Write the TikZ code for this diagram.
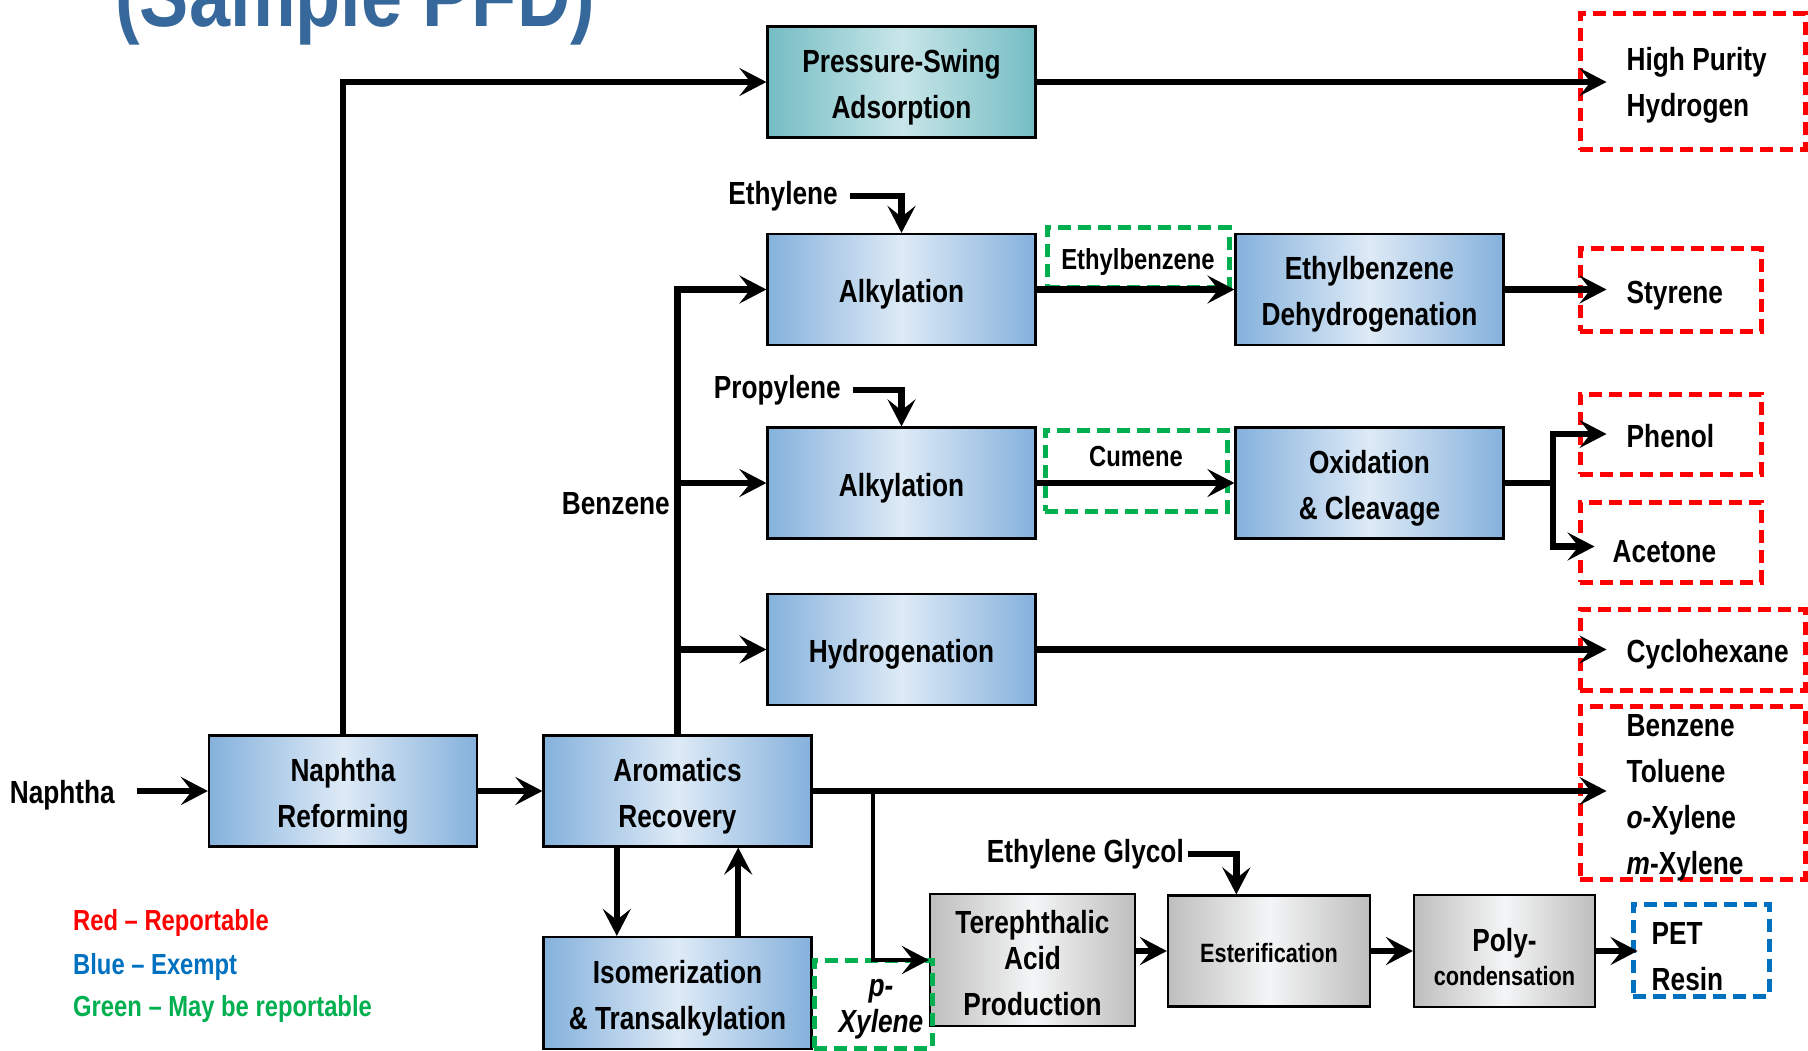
\documentclass[tikz,border=0pt]{standalone}
\usepackage{fontspec}
\setmainfont{Liberation Sans}[FakeStretch=0.82]
\usepackage{tikz}
\usetikzlibrary{arrows.meta}
\usetikzlibrary{positioning}

\definecolor{bxedge}{RGB}{132,177,220}
\definecolor{bxmid}{RGB}{222,234,246}
\definecolor{tledge}{RGB}{116,189,195}
\definecolor{tlmid}{RGB}{200,230,233}
\definecolor{gyedge}{RGB}{190,190,190}
\definecolor{gymid}{RGB}{244,245,246}
\definecolor{rptred}{RGB}{255,0,0}
\definecolor{exblue}{RGB}{0,112,192}
\definecolor{maygreen}{RGB}{0,176,80}
\definecolor{titleblue}{RGB}{54,104,155}

\begin{document}
\begin{tikzpicture}[x=1pt,y=-1pt,inner sep=0pt,
  >={Stealth[length=27pt,width=28pt,inset=11pt]},
  font=\fontsize{32}{46}\selectfont\bfseries,
  flow/.style={->,line width=6.5pt},
  main node/.style={draw,line width=2.2pt,minimum width=268pt,minimum height=111pt,
    text width=260pt,align=flush center,text height=33pt,
    left color=bxedge,right color=bxedge,middle color=bxmid},
  teal node/.style={main node,left color=tledge,right color=tledge,middle color=tlmid},
  gray node/.style={main node,left color=gyedge,right color=gyedge,middle color=gymid},
  red box/.style={draw=rptred,line width=5pt,dash pattern=on 13pt off 7pt},
  green box/.style={red box,draw=maygreen},
  blue box/.style={red box,draw=exblue},
  prod text/.style={text width=170pt,align=flush left,text height=33pt}]

  \useasboundingbox (0,0) rectangle (1808,1051);

  \node (title) at (115,27) [anchor=base west,text=titleblue,font=\fontsize{90}{90}\selectfont\bfseries] {(Sample PFD)};

  % process units
  \node[teal node] (psa) at (901.5,82) {Pressure-Swing\\Adsorption};
  \node[main node] (alk1) at (901.5,289.5) {Alkylation};
  \node[main node] (alk2) at (901.5,483) {Alkylation};
  \node[main node] (hyd) at (901.5,649.5) {Hydrogenation};
  \node[main node] (ebd) at (1369.5,289.5) {Ethylbenzene\\Dehydrogenation};
  \node[main node] (oxc) at (1369.5,483) {Oxidation\\\& Cleavage};
  \node[main node] (nr) at (343,791) {Naphtha\\Reforming};
  \node[main node] (ar) at (677.5,791) {Aromatics\\Recovery};
  \node[main node] (iso) at (677.5,993) [minimum height=112pt] {Isomerization\\\& Transalkylation};
  \node[gray node] (tap) at (1032.5,960) [minimum width=205pt,minimum height=132pt,text width=200pt,
    text height=30pt,font=\fontsize{32}{36}\selectfont\bfseries] {Terephthalic\\Acid\\[10pt]Production};
  \node[gray node] (est) at (1269,951) [minimum width=202pt,text width=195pt,text height=24pt,
    font=\fontsize{26.5}{30}\selectfont\bfseries] {Esterification};
  \node[gray node] (poly) at (1504.5,951) [minimum width=181pt,minimum height=112pt,text width=175pt,
    text height=35pt] {Poly-\\[-12pt]{\fontsize{26.5}{30}\selectfont condensation}};

  % intermediates
  \node[green box] (ebbox) at (1138,258) [minimum width=182pt,minimum height=60pt,text height=30pt,
    font=\fontsize{29}{29}\selectfont\bfseries] {Ethylbenzene};
  \node[green box] (cumbox) at (1136,470.5) [minimum width=182pt,minimum height=81pt] {};
  \node[] (cum) [below=19pt of cumbox.north,font=\fontsize{29}{29}\selectfont\bfseries] {Cumene};
  \node[green box] (pxbox) at (873,1004) [minimum width=118pt,minimum height=88pt] {};
  \node[] (px) at (pxbox.center) [xshift=8pt,text width=110pt,align=flush center,text height=27pt,
    font=\fontsize{32}{36}\selectfont\bfseries\itshape] {p-\\Xylene};

  % products
  \node[red box] (hphbox) at (1692.5,82) [minimum width=225pt,minimum height=136pt] {};
  \node[prod text] (hph) [right=49pt of hphbox.west,text height=30pt] {High Purity\\Hydrogen};
  \node[red box] (stybox) at (1670.5,290) [minimum width=181pt,minimum height=82pt] {};
  \node[prod text] (sty) [right=49pt of stybox.west] {Styrene};
  \node[red box] (phebox) at (1670.5,434) [minimum width=181pt,minimum height=80pt] {};
  \node[prod text] (phe) [right=49pt of phebox.west,text height=28pt] {Phenol};
  \node[red box] (acebox) at (1670.5,542) [minimum width=181pt,minimum height=80pt] {};
  \node[prod text] (ace) [right=35pt of acebox.west,yshift=-4.5pt] {Acetone};
  \node[red box] (cycbox) at (1692.5,649.5) [minimum width=225pt,minimum height=81pt] {};
  \node[prod text] (cyc) [right=49pt of cycbox.west] {Cyclohexane};
  \node[red box] (btxbox) at (1692.5,792.5) [minimum width=225pt,minimum height=173pt] {};
  \node[prod text] (btx) [right=49pt of btxbox.west] {Benzene\\Toluene\\\textit{o}-Xylene\\\textit{m}-Xylene};
  \node[blue box] (petbox) at (1701,950) [minimum width=136pt,minimum height=92pt] {};
  \node[prod text] (pet) [right=21pt of petbox.west,text width=100pt,text height=35pt] {PET\\Resin};

  % feeds and stream labels
  \node (nap) at (115,795) [anchor=east] {Naphtha};
  \node (eth) at (838,196) [anchor=east] {Ethylene};
  \node (prop) at (841,390) [anchor=east] {Propylene};
  \node (benz) at (670,504) [anchor=east] {Benzene};
  \node (eg) at (1184,854) [anchor=east] {Ethylene Glycol};

  % legend
  \node (lred) at (73,930) [anchor=base west,text=rptred,font=\fontsize{29}{29}\selectfont\bfseries] {Red -- Reportable};
  \node (lblue) at (73,974) [anchor=base west,text=exblue,font=\fontsize{29}{29}\selectfont\bfseries] {Blue -- Exempt};
  \node (lgreen) at (73,1016) [anchor=base west,text=maygreen,font=\fontsize{29}{29}\selectfont\bfseries] {Green -- May be reportable};

  % streams
  \draw[flow,shorten <=22pt] (nap.east |- nr.west) -- (nr.west);
  \draw[flow] (nr) -- (ar);
  \draw[flow] (nr.north) |- (psa.west);
  \draw[flow,shorten >=20pt] (psa.east) -- (psa.east -| hph.west);
  \draw[flow] (ar.north) |- (alk1.west);
  \draw[flow] (ar.north) |- (alk2.west);
  \draw[flow] (ar.north) |- (hyd.west);
  \draw[flow,shorten <=12pt] (eth.east) -| (alk1.north);
  \draw[flow,shorten <=12pt] (prop.east) -| (alk2.north);
  \draw[flow] (alk1) -- (ebd);
  \draw[flow] (alk2) -- (oxc);
  \draw[flow,shorten >=20pt] (ebd.east) -- (ebd.east -| sty.west);
  \coordinate (oxj) at (1553,483);
  \draw[flow,shorten >=20pt] (oxc.east) -- (oxj) |- (phe.west);
  \draw[flow,shorten >=18pt] (oxj) |- (ace.west);
  \draw[flow,shorten >=20pt] (hyd.east) -- (hyd.east -| cyc.west);
  \draw[flow,shorten >=20pt] (ar.east) -- (ar.east -| btx.west);
  \draw[flow] (ar.223) -- (ar.223 |- iso.north);
  \draw[flow] (ar.317 |- iso.north) -- (ar.317);
  \draw[flow,line width=4.5pt] (pxbox.north |- ar.east) |- (tap.west);
  \draw[flow,shorten <=4pt] (eg.east) -| (est.120);
  \draw[flow] (tap.east |- est.west) -- (est.west);
  \draw[flow] (est) -- (poly);
  \draw[flow,shorten >=14pt] (poly.east) -- (poly.east -| pet.west);
\end{tikzpicture}
\end{document}
